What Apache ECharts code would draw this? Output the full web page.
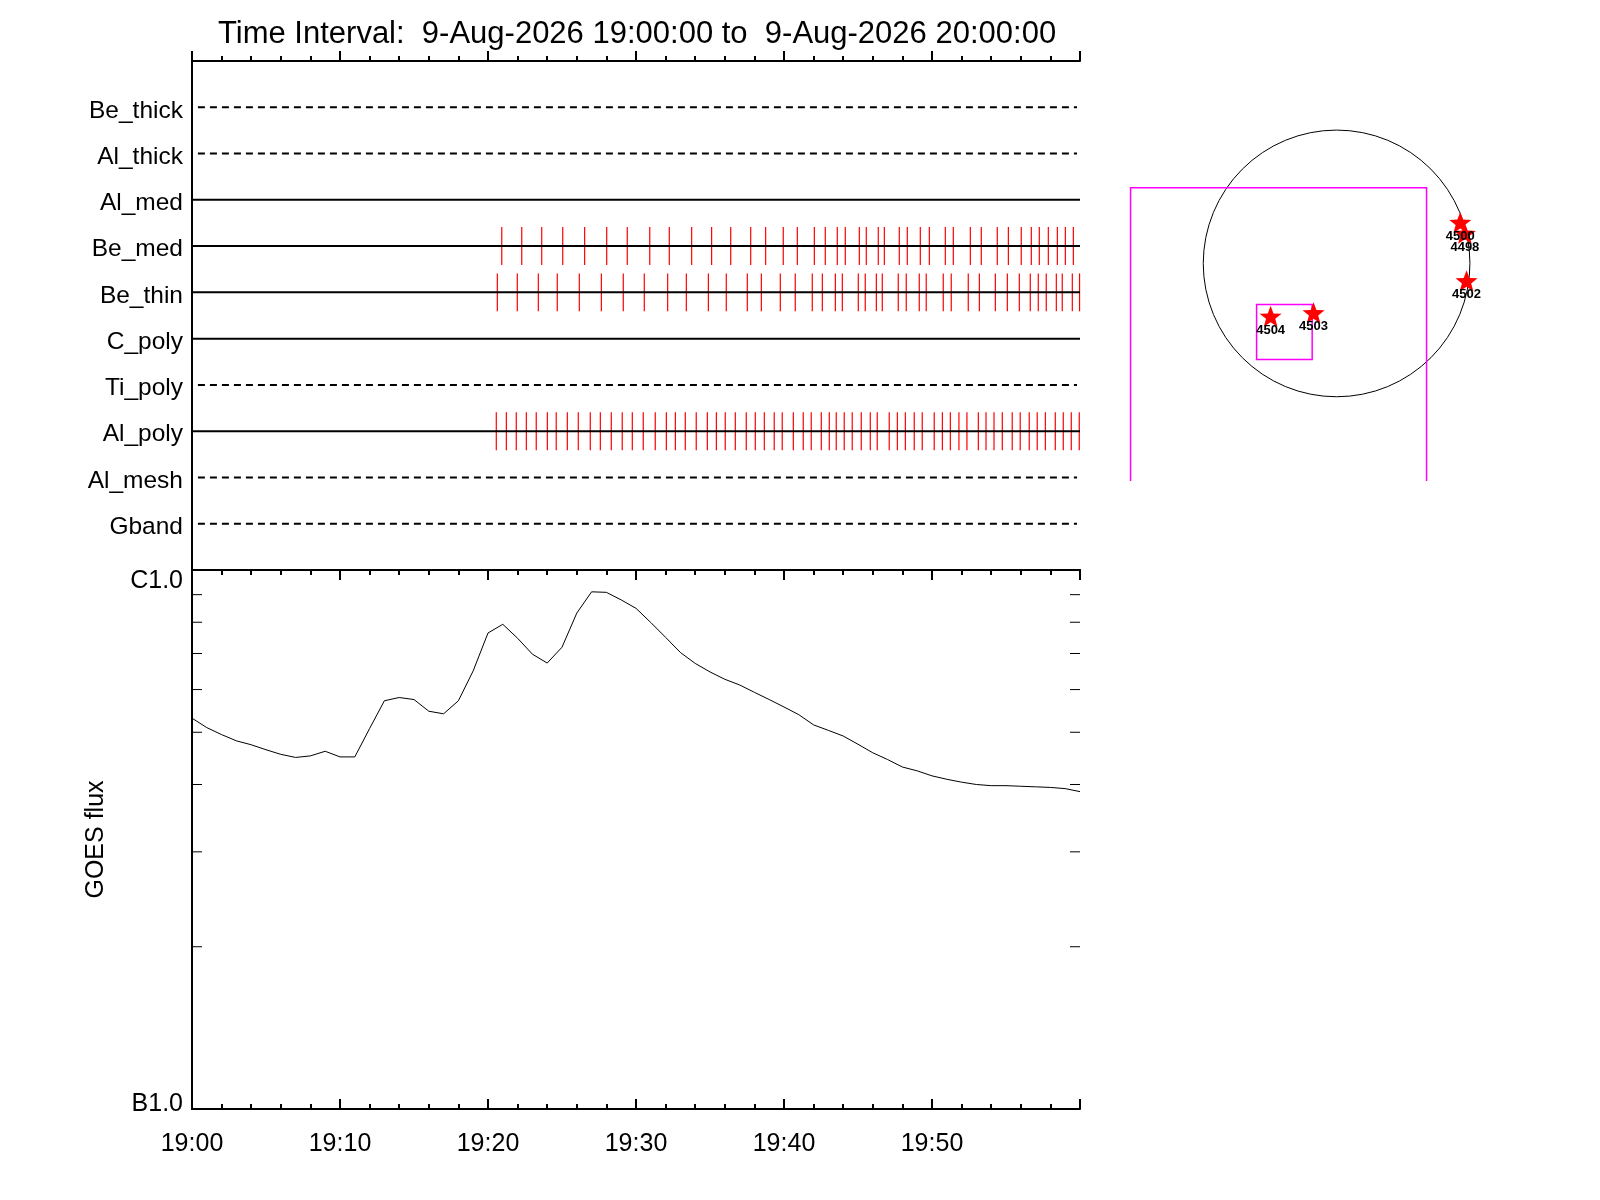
<!DOCTYPE html>
<html>
<head>
<meta charset="utf-8">
<title>Time Interval</title>
<script src="https://cdn.jsdelivr.net/npm/echarts@6/dist/echarts.min.js"></script>
<style>
  html, body { margin: 0; padding: 0; background: #fff; }
  #chart { width: 1600px; height: 1200px; }
</style>
</head>
<body>
<div id="chart"></div>
<script>
// rows of the filter panel, top to bottom
const rowNames = ['Be_thick', 'Al_thick', 'Al_med', 'Be_med', 'Be_thin', 'C_poly', 'Ti_poly', 'Al_poly', 'Al_mesh', 'Gband'];
const rowDashed = [true, true, false, false, false, false, true, false, true, true];

// time axis: minutes after 19:00
const timeLabels = ['19:00', '19:10', '19:20', '19:30', '19:40', '19:50', ''];

// exposure times (minutes after 19:00) per filter
const beMedTimes = [20.93, 22.28, 23.63, 25.05, 26.53, 28.02, 29.41, 30.93, 32.25, 33.76, 35.11, 36.40, 37.75, 38.76,
  39.95, 40.90, 42.05, 42.79, 43.60, 44.14, 45.09, 45.56, 46.37, 46.78, 47.79, 48.33, 49.21, 49.82, 50.90, 51.44,
  52.59, 53.33, 54.41, 55.16, 56.03, 56.71, 57.25, 57.86, 58.47, 59.01, 59.55];
const beThinTimes = [20.63, 21.98, 23.40, 24.68, 26.17, 27.66, 29.14, 30.56, 32.14, 33.40, 34.89, 36.10, 37.52, 38.47,
  39.75, 40.76, 41.91, 42.59, 43.47, 43.94, 45.02, 45.49, 46.24, 46.64, 47.72, 48.26, 49.14, 49.61, 50.76, 51.30,
  52.45, 53.20, 54.28, 55.09, 55.90, 56.64, 57.18, 57.72, 58.40, 58.80, 59.48, 59.97];
const alPolyTimes = [20.56, 21.24, 21.91, 22.59, 23.26, 24.01, 24.61, 25.36, 26.10, 26.91, 27.59, 28.33, 29.07, 29.75,
  30.49, 31.30, 32.05, 32.66, 33.33, 34.07, 34.82, 35.43, 36.03, 36.71, 37.45, 38.06, 38.67, 39.34, 39.88, 40.63,
  41.30, 41.84, 42.52, 43.06, 43.53, 44.07, 44.61, 45.22, 45.83, 46.30, 47.11, 47.66, 48.20, 48.80, 49.34, 50.15,
  50.70, 51.24, 51.82, 52.36, 53.13, 53.65, 54.19, 54.75, 55.42, 55.96, 56.57, 57.11, 57.66, 58.33, 58.87, 59.41, 59.95];

// GOES flux, 1-minute cadence from 19:00, in units of 1e-7 W/m^2
const goesFlux = [5.31, 5.10, 4.95, 4.82, 4.74, 4.64, 4.55, 4.49, 4.52, 4.61, 4.50, 4.50, 5.08, 5.72, 5.80, 5.75,
  5.47, 5.41, 5.72, 6.50, 7.64, 7.93, 7.47, 6.98, 6.72, 7.19, 8.32, 9.11, 9.09, 8.80, 8.49, 7.99, 7.50, 7.03, 6.71,
  6.47, 6.27, 6.12, 5.93, 5.75, 5.57, 5.39, 5.16, 5.04, 4.92, 4.75, 4.58, 4.45, 4.31, 4.24, 4.15, 4.09, 4.04, 4.00,
  3.98, 3.98, 3.97, 3.96, 3.95, 3.93, 3.88];
const fluxMinorTicks = [2, 3, 4, 5, 6, 7, 8, 9];   // x 1e-7

// solar context map (arcsec)
const limbRadius = 950;
const fovBox = [-1468, -1570, 641, 539];
const subBox = [-570, -684, -174, -292];
const spotNames = ['4504', '4503', '4502', '4500', '4498'];
const spotX = [-470, -164, 926, 881, 914];
const spotY = [-376, -352, -124, 292, 214];

const FONT = '"Liberation Sans", Arial, Helvetica, sans-serif';
const chart = echarts.init(document.getElementById('chart'));

function starPath() {
  let d = '';
  for (let k = 0; k < 10; k++) {
    const r = k % 2 ? 0.42 : 1;
    const a = -Math.PI / 2 + k * Math.PI / 5;
    d += (k ? 'L' : 'M') + (r * Math.cos(a)).toFixed(3) + ' ' + (r * Math.sin(a)).toFixed(3);
  }
  return 'path://' + d + 'Z';
}

// vertical red tick per exposure, centred on its row
function renderExposure(params, api) {
  const t = api.value(0), row = api.value(1);
  const a = api.coord([t, row - 0.41]);
  const b = api.coord([t, row + 0.41]);
  return {
    type: 'line',
    shape: { x1: a[0], y1: a[1], x2: b[0], y2: b[1] },
    style: { stroke: '#ff0000', lineWidth: 1.2 }
  };
}

function exposureSeries(name, times) {
  const row = rowNames.indexOf(name) + 1;
  return {
    name: name,
    type: 'custom',
    xAxisIndex: 0,
    yAxisIndex: 0,
    z: 2,
    data: times.map(t => [t, row]),
    renderItem: renderExposure
  };
}

const rowLines = rowNames.map((name, i) => ({
  name: name + ' line',
  type: 'line',
  xAxisIndex: 0,
  yAxisIndex: 0,
  z: 3,
  symbol: 'none',
  data: rowDashed[i] ? [[0.4, i + 1], [59.8, i + 1]] : [[0, i + 1], [60, i + 1]],
  lineStyle: { color: '#000', width: 2, type: rowDashed[i] ? [7, 5] : 'solid' }
}));

const blackLine = { show: true, lineStyle: { color: '#000', width: 2 } };

function timeAxis(grid, pos, len, labels) {
  return {
    gridIndex: grid,
    type: 'value',
    position: pos,
    min: 0,
    max: 60,
    interval: 10,
    axisLine: blackLine,
    axisTick: { show: true, inside: true, length: len, lineStyle: { color: '#000', width: 2 } },
    minorTick: { show: true, splitNumber: 5, length: len / 2, lineStyle: { color: '#000', width: 2 } },
    splitLine: { show: false },
    axisLabel: labels ? {
      show: true,
      margin: 23,
      color: '#000',
      fontFamily: FONT,
      fontSize: 25,
      formatter: v => timeLabels[Math.round(v / 10)]
    } : { show: false }
  };
}

const option = {
  animation: false,
  backgroundColor: '#fff',
  textStyle: { fontFamily: FONT },
  graphic: [{
    type: 'text',
    x: 218,
    y: 34,
    style: {
      text: 'Time Interval:  9-Aug-2026 19:00:00 to  9-Aug-2026 20:00:00',
      font: '31px ' + FONT,
      fill: '#000',
      align: 'left',
      verticalAlign: 'middle'
    }
  }],
  grid: [
    { left: 192, top: 61, width: 888, height: 509, outerBoundsMode: 'none' },
    { left: 192, top: 570, width: 888, height: 539, outerBoundsMode: 'none' },
    { left: 1098, top: 102, width: 400, height: 379, outerBoundsMode: 'none' }
  ],
  xAxis: [
    timeAxis(0, 'bottom', 10, false),
    timeAxis(0, 'top', 8, false),
    timeAxis(1, 'bottom', 10, true),
    timeAxis(1, 'top', 10, false),
    { gridIndex: 2, type: 'value', min: -1700, max: 1150, show: false }
  ],
  yAxis: [
    {
      gridIndex: 0,
      type: 'value',
      position: 'left',
      inverse: true,
      min: 0,
      max: 11,
      interval: 1,
      axisLine: blackLine,
      axisTick: { show: false },
      splitLine: { show: false },
      axisLabel: {
        margin: 9,
        color: '#000',
        verticalAlign: 'middle',
        formatter: v => (rowNames[v - 1] ? '{r|' + rowNames[v - 1] + '}' : ''),
        rich: {
          r: { color: '#000', fontFamily: FONT, fontSize: 24.5, padding: [7, 0, 0, 0] }
        }
      }
    },
    {
      gridIndex: 0,
      type: 'value',
      position: 'right',
      min: 0,
      max: 11,
      axisLine: blackLine,
      axisTick: { show: false },
      axisLabel: { show: false },
      splitLine: { show: false }
    },
    {
      gridIndex: 1,
      type: 'log',
      logBase: 10,
      position: 'left',
      min: 1e-7,
      max: 1e-6,
      axisLine: blackLine,
      axisTick: { show: false },
      splitLine: { show: false },
      name: 'GOES flux',
      nameLocation: 'middle',
      nameRotate: 90,
      nameGap: 83,
      nameTextStyle: { color: '#000', fontFamily: FONT, fontSize: 25 },
      axisLabel: {
        margin: 9,
        color: '#000',
        verticalAlign: 'middle',
        formatter: v => (v > 9.9e-7 ? '{hi|C1.0}' : (v < 1.01e-7 ? '{lo|B1.0}' : '')),
        rich: {
          hi: { color: '#000', fontFamily: FONT, fontSize: 25, padding: [22, 0, 0, 0] },
          lo: { color: '#000', fontFamily: FONT, fontSize: 25, padding: [0, 0, 10, 0] }
        }
      }
    },
    {
      gridIndex: 1,
      type: 'log',
      logBase: 10,
      position: 'right',
      min: 1e-7,
      max: 1e-6,
      axisLine: blackLine,
      axisTick: { show: false },
      axisLabel: { show: false },
      splitLine: { show: false }
    },
    { gridIndex: 2, type: 'value', min: -1550, max: 1150, show: false }
  ],
  series: [
    exposureSeries('Be_med', beMedTimes),
    exposureSeries('Be_thin', beThinTimes),
    exposureSeries('Al_poly', alPolyTimes),
    ...rowLines,
    {
      name: 'GOES',
      type: 'line',
      xAxisIndex: 2,
      yAxisIndex: 2,
      symbol: 'none',
      data: goesFlux.map((f, i) => [i, f * 1e-7]),
      lineStyle: { color: '#000', width: 1 }
    },
    {
      name: 'flux ticks',
      type: 'custom',
      xAxisIndex: 2,
      yAxisIndex: 2,
      data: fluxMinorTicks.map(v => [0, v * 1e-7]),
      renderItem(params, api) {
        const p = api.coord([0, api.value(1)]);
        const cs = params.coordSys;
        return {
          type: 'group',
          children: [
            { type: 'line', shape: { x1: cs.x, y1: p[1], x2: cs.x + 10, y2: p[1] }, style: { stroke: '#000', lineWidth: 1 } },
            { type: 'line', shape: { x1: cs.x + cs.width - 10, y1: p[1], x2: cs.x + cs.width, y2: p[1] }, style: { stroke: '#000', lineWidth: 1 } }
          ]
        };
      }
    },
    {
      name: 'limb',
      type: 'custom',
      xAxisIndex: 4,
      yAxisIndex: 4,
      data: [[0, 0]],
      renderItem(params, api) {
        const c = api.coord([api.value(0), api.value(1)]);
        const r = api.size([limbRadius, 0])[0];
        return {
          type: 'circle',
          shape: { cx: c[0], cy: c[1], r: r },
          style: { fill: 'none', stroke: '#000', lineWidth: 1 }
        };
      }
    },
    {
      name: 'fov',
      type: 'custom',
      xAxisIndex: 4,
      yAxisIndex: 4,
      clip: true,
      encode: { x: [0, 2], y: [1, 3] },
      data: [fovBox, subBox],
      renderItem(params, api) {
        const p0 = api.coord([api.value(0), api.value(1)]);
        const p1 = api.coord([api.value(2), api.value(3)]);
        return {
          type: 'rect',
          shape: {
            x: Math.min(p0[0], p1[0]),
            y: Math.min(p0[1], p1[1]),
            width: Math.abs(p1[0] - p0[0]),
            height: Math.abs(p1[1] - p0[1])
          },
          style: { fill: 'none', stroke: '#ff00ff', lineWidth: 1.5 }
        };
      }
    },
    {
      name: 'active regions',
      type: 'scatter',
      xAxisIndex: 4,
      yAxisIndex: 4,
      symbol: starPath(),
      symbolKeepAspect: true,
      symbolSize: 22,
      itemStyle: { color: '#ff0000', opacity: 1 },
      label: {
        show: true,
        position: 'bottom',
        distance: -3,
        color: '#000',
        fontFamily: FONT,
        fontSize: 13,
        fontWeight: 'bold',
        formatter: p => p.data[2]
      },
      data: spotNames.map((n, i) => [spotX[i], spotY[i], n])
    }
  ]
};

chart.setOption(option);
</script>
</body>
</html>
